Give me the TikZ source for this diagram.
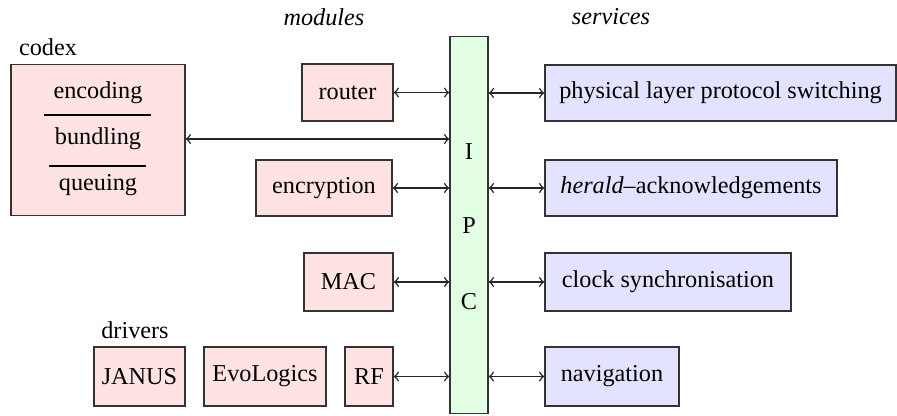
\documentclass[tikz,border=0pt]{standalone}
\usepackage{fontspec}
\setmainfont{Liberation Serif}
\begin{document}
\begin{tikzpicture}[x=0.4167pt,y=-0.4167pt,
  box/.style={draw=black!80, line width=0.55pt, inner sep=0pt, font=\fontsize{10.1}{12}\selectfont},
  mod/.style={box, fill=red!11},
  srv/.style={box, fill=blue!11},
  ipcbox/.style={box, fill=green!11},
  lbl/.style={inner sep=0pt, font=\fontsize{10.1}{12}\selectfont},
  conn/.style={<->, line width=0.6pt, black!85}]
\useasboundingbox (0,0) rectangle (897,415);
% labels
\node[lbl] (lcodex) at (48,47) {codex};
\node[lbl] (lmod) at (324,17) {\itshape modules};
\node[lbl] (lsrv) at (611,17) {\itshape services};
\node[lbl] (ldrv) at (135,330) {drivers};
% codex
\node[mod, minimum width=174*0.4167pt, minimum height=151*0.4167pt] (codex) at (98,140) {};
\node[lbl] (enc) at (98,93) {encoding};
\node[lbl] (bun) at (98,139) {bundling};
\node[lbl] (que) at (98,185) {queuing};
\coordinate (l1a) at (44,115); \coordinate (l1b) at (151,115);
\coordinate (l2a) at (49,166); \coordinate (l2b) at (146,166);
\draw[line width=0.5pt] (l1a) -- (l1b);
\draw[line width=0.5pt] (l2a) -- (l2b);
% IPC
\node[ipcbox, minimum width=38*0.4167pt, minimum height=377*0.4167pt] (ipc) at (469,225) {};
\node[lbl] (pI) at (469,152) {I};
\node[lbl] (pP) at (469,226) {P};
\node[lbl] (pC) at (469,302) {C};
% modules
\node[mod, minimum width=91*0.4167pt, minimum height=57*0.4167pt] (router) at (347.5,92.5) {router};
\node[mod, minimum width=136*0.4167pt, minimum height=56*0.4167pt] (encr) at (324,188) {encryption};
\node[mod, minimum width=89*0.4167pt, minimum height=58*0.4167pt] (mac) at (348.5,282) {MAC};
% drivers
\node[mod, minimum width=91*0.4167pt, minimum height=59*0.4167pt] (janus) at (139.5,376.5) {JANUS};
\node[mod, minimum width=122*0.4167pt, minimum height=59*0.4167pt] (evo) at (265,376.5) {EvoLogics};
\node[mod, minimum width=48*0.4167pt, minimum height=59*0.4167pt] (rf) at (369,376.5) {RF};
% services
\node[srv, minimum width=351*0.4167pt, minimum height=56*0.4167pt] (phy) at (720.5,93) {physical layer protocol switching};
\node[srv, minimum width=292*0.4167pt, minimum height=56*0.4167pt] (her) at (691,188) {\textit{herald}--acknowledgements};
\node[srv, minimum width=246*0.4167pt, minimum height=58*0.4167pt] (clk) at (668,282) {clock synchronisation};
\node[srv, minimum width=134*0.4167pt, minimum height=59*0.4167pt] (nav) at (612,376.5) {navigation};
% connectors
\draw[conn] (router.east) -- (router.east -| ipc.west);
\draw[conn] (codex.east |- bun) -- (bun -| ipc.west);
\draw[conn] (encr.east) -- (encr.east -| ipc.west);
\draw[conn] (mac.east) -- (mac.east -| ipc.west);
\draw[conn] (rf.east) -- (rf.east -| ipc.west);
\draw[conn] (phy.west -| ipc.east) -- (phy.west);
\draw[conn] (her.west -| ipc.east) -- (her.west);
\draw[conn] (clk.west -| ipc.east) -- (clk.west);
\draw[conn] (nav.west -| ipc.east) -- (nav.west);
\end{tikzpicture}
\end{document}
